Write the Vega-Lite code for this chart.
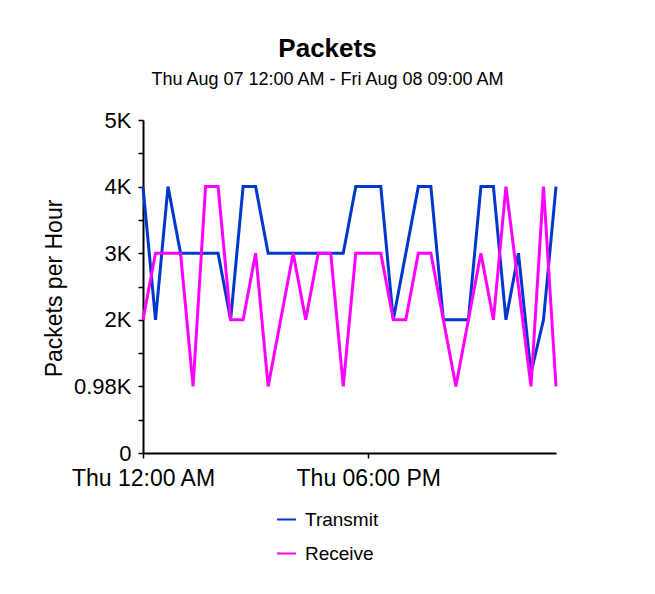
{
  "$schema": "https://vega.github.io/schema/vega-lite/v6.json",
  "width": 413,
  "height": 333,
  "autosize": {"type": "none"},
  "padding": {"left": 143, "top": 120, "right": 99, "bottom": 141},
  "background": "white",
  "title": {
    "text": "Packets",
    "subtitle": "Thu Aug 07 12:00 AM - Fri Aug 08 09:00 AM",
    "font": "Liberation Sans",
    "fontSize": 26,
    "fontWeight": "bold",
    "color": "black",
    "subtitleFont": "Liberation Sans",
    "subtitleFontSize": 18,
    "subtitleColor": "black",
    "anchor": "middle",
    "dx": -22,
    "offset": 20,
    "subtitlePadding": 9
  },
  "data": {
    "values": [
      {"time": "2008-08-07T00:00:00", "series": "Transmit", "packets": 4000},
      {"time": "2008-08-07T01:00:00", "series": "Transmit", "packets": 2000},
      {"time": "2008-08-07T02:00:00", "series": "Transmit", "packets": 4000},
      {"time": "2008-08-07T03:00:00", "series": "Transmit", "packets": 3000},
      {"time": "2008-08-07T04:00:00", "series": "Transmit", "packets": 3000},
      {"time": "2008-08-07T05:00:00", "series": "Transmit", "packets": 3000},
      {"time": "2008-08-07T06:00:00", "series": "Transmit", "packets": 3000},
      {"time": "2008-08-07T07:00:00", "series": "Transmit", "packets": 2000},
      {"time": "2008-08-07T08:00:00", "series": "Transmit", "packets": 4000},
      {"time": "2008-08-07T09:00:00", "series": "Transmit", "packets": 4000},
      {"time": "2008-08-07T10:00:00", "series": "Transmit", "packets": 3000},
      {"time": "2008-08-07T11:00:00", "series": "Transmit", "packets": 3000},
      {"time": "2008-08-07T12:00:00", "series": "Transmit", "packets": 3000},
      {"time": "2008-08-07T13:00:00", "series": "Transmit", "packets": 3000},
      {"time": "2008-08-07T14:00:00", "series": "Transmit", "packets": 3000},
      {"time": "2008-08-07T15:00:00", "series": "Transmit", "packets": 3000},
      {"time": "2008-08-07T16:00:00", "series": "Transmit", "packets": 3000},
      {"time": "2008-08-07T17:00:00", "series": "Transmit", "packets": 4000},
      {"time": "2008-08-07T18:00:00", "series": "Transmit", "packets": 4000},
      {"time": "2008-08-07T19:00:00", "series": "Transmit", "packets": 4000},
      {"time": "2008-08-07T20:00:00", "series": "Transmit", "packets": 2000},
      {"time": "2008-08-07T21:00:00", "series": "Transmit", "packets": 3000},
      {"time": "2008-08-07T22:00:00", "series": "Transmit", "packets": 4000},
      {"time": "2008-08-07T23:00:00", "series": "Transmit", "packets": 4000},
      {"time": "2008-08-08T00:00:00", "series": "Transmit", "packets": 2000},
      {"time": "2008-08-08T01:00:00", "series": "Transmit", "packets": 2000},
      {"time": "2008-08-08T02:00:00", "series": "Transmit", "packets": 2000},
      {"time": "2008-08-08T03:00:00", "series": "Transmit", "packets": 4000},
      {"time": "2008-08-08T04:00:00", "series": "Transmit", "packets": 4000},
      {"time": "2008-08-08T05:00:00", "series": "Transmit", "packets": 2000},
      {"time": "2008-08-08T06:00:00", "series": "Transmit", "packets": 3000},
      {"time": "2008-08-08T07:00:00", "series": "Transmit", "packets": 1200},
      {"time": "2008-08-08T08:00:00", "series": "Transmit", "packets": 2000},
      {"time": "2008-08-08T09:00:00", "series": "Transmit", "packets": 4000},
      {"time": "2008-08-07T00:00:00", "series": "Receive", "packets": 2000},
      {"time": "2008-08-07T01:00:00", "series": "Receive", "packets": 3000},
      {"time": "2008-08-07T02:00:00", "series": "Receive", "packets": 3000},
      {"time": "2008-08-07T03:00:00", "series": "Receive", "packets": 3000},
      {"time": "2008-08-07T04:00:00", "series": "Receive", "packets": 1000},
      {"time": "2008-08-07T05:00:00", "series": "Receive", "packets": 4000},
      {"time": "2008-08-07T06:00:00", "series": "Receive", "packets": 4000},
      {"time": "2008-08-07T07:00:00", "series": "Receive", "packets": 2000},
      {"time": "2008-08-07T08:00:00", "series": "Receive", "packets": 2000},
      {"time": "2008-08-07T09:00:00", "series": "Receive", "packets": 3000},
      {"time": "2008-08-07T10:00:00", "series": "Receive", "packets": 1000},
      {"time": "2008-08-07T11:00:00", "series": "Receive", "packets": 2000},
      {"time": "2008-08-07T12:00:00", "series": "Receive", "packets": 3000},
      {"time": "2008-08-07T13:00:00", "series": "Receive", "packets": 2000},
      {"time": "2008-08-07T14:00:00", "series": "Receive", "packets": 3000},
      {"time": "2008-08-07T15:00:00", "series": "Receive", "packets": 3000},
      {"time": "2008-08-07T16:00:00", "series": "Receive", "packets": 1000},
      {"time": "2008-08-07T17:00:00", "series": "Receive", "packets": 3000},
      {"time": "2008-08-07T18:00:00", "series": "Receive", "packets": 3000},
      {"time": "2008-08-07T19:00:00", "series": "Receive", "packets": 3000},
      {"time": "2008-08-07T20:00:00", "series": "Receive", "packets": 2000},
      {"time": "2008-08-07T21:00:00", "series": "Receive", "packets": 2000},
      {"time": "2008-08-07T22:00:00", "series": "Receive", "packets": 3000},
      {"time": "2008-08-07T23:00:00", "series": "Receive", "packets": 3000},
      {"time": "2008-08-08T00:00:00", "series": "Receive", "packets": 2000},
      {"time": "2008-08-08T01:00:00", "series": "Receive", "packets": 1000},
      {"time": "2008-08-08T02:00:00", "series": "Receive", "packets": 2000},
      {"time": "2008-08-08T03:00:00", "series": "Receive", "packets": 3000},
      {"time": "2008-08-08T04:00:00", "series": "Receive", "packets": 2000},
      {"time": "2008-08-08T05:00:00", "series": "Receive", "packets": 4000},
      {"time": "2008-08-08T06:00:00", "series": "Receive", "packets": 2500},
      {"time": "2008-08-08T07:00:00", "series": "Receive", "packets": 1000},
      {"time": "2008-08-08T08:00:00", "series": "Receive", "packets": 4000},
      {"time": "2008-08-08T09:00:00", "series": "Receive", "packets": 1000}
    ]
  },
  "mark": {"type": "line", "strokeWidth": 3, "interpolate": "linear"},
  "encoding": {
    "x": {
      "field": "time",
      "type": "temporal",
      "scale": {"domain": [{"year": 2008, "month": 8, "date": 7, "hours": 0}, {"year": 2008, "month": 8, "date": 8, "hours": 9}], "nice": false},
      "axis": {
        "title": null,
        "values": [{"year": 2008, "month": 8, "date": 7, "hours": 0}, {"year": 2008, "month": 8, "date": 7, "hours": 18}],
        "format": "%a %I:%M %p",
        "grid": false,
        "labelFont": "Liberation Sans",
        "labelFontSize": 23,
        "labelColor": "black",
        "labelPadding": 9,
        "labelFlush": false,
        "labelOverlap": false,
        "domainColor": "black",
        "domainWidth": 2,
        "tickColor": "black",
        "tickSize": 5,
        "tickWidth": 1.5
      }
    },
    "y": {
      "field": "packets",
      "type": "quantitative",
      "scale": {"domain": [0, 5000], "nice": false},
      "axis": {
        "title": "Packets per Hour",
        "values": [0, 500, 1000, 1500, 2000, 2500, 3000, 3500, 4000, 4500, 5000],
        "labelExpr": "datum.value == 0 ? '0' : datum.value == 1000 ? '0.98K' : datum.value % 1000 == 0 ? (datum.value / 1000) + 'K' : ''",
        "grid": false,
        "labelFont": "Liberation Sans",
        "labelFontSize": 22,
        "labelColor": "black",
        "labelPadding": 7,
        "labelFlush": false,
        "labelOverlap": false,
        "domainColor": "black",
        "domainWidth": 2,
        "tickColor": "black",
        "tickSize": 5,
        "tickWidth": 1.5,
        "titleFont": "Liberation Sans",
        "titleFontSize": 23,
        "titleFontWeight": "normal",
        "titleColor": "black",
        "titleAngle": -90,
        "titleAlign": "center",
        "titleBaseline": "middle",
        "titleX": -89,
        "titleY": 168
      }
    },
    "color": {
      "field": "series",
      "type": "nominal",
      "sort": ["Transmit", "Receive"],
      "scale": {"domain": ["Transmit", "Receive"], "range": ["#0038cc", "#ff00ff"]},
      "legend": {
        "orient": "none",
        "legendX": 133,
        "legendY": 389,
        "direction": "vertical",
        "title": null,
        "symbolType": "stroke",
        "symbolSize": 361,
        "symbolStrokeWidth": 2,
        "labelFont": "Liberation Sans",
        "labelFontSize": 19,
        "labelColor": "black",
        "rowPadding": 13,
        "labelOffset": 8
      }
    }
  },
  "config": {
    "view": {"stroke": null}
  }
}
